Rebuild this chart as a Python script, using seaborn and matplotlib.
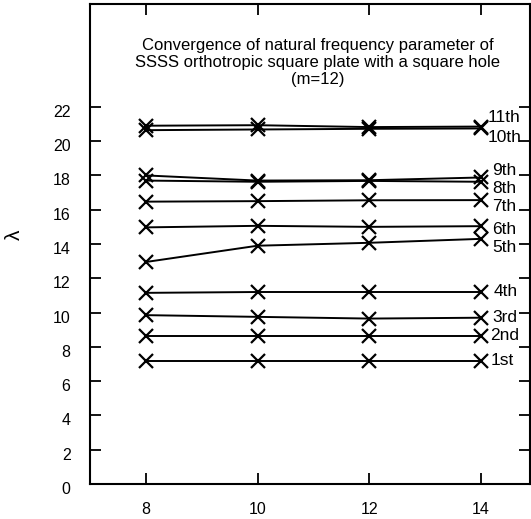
import matplotlib
matplotlib.use("Agg")
import matplotlib.pyplot as plt
import matplotlib.transforms as mtransforms
import seaborn as sns
import pandas as pd

# ---- data ----
n_terms = [8, 10, 12, 14]
modes = ["1st", "2nd", "3rd", "4th", "5th", "6th", "7th", "8th", "9th", "10th", "11th"]
mode_1 = [7.20, 7.20, 7.20, 7.20]
mode_2 = [8.65, 8.65, 8.65, 8.65]
mode_3 = [9.85, 9.75, 9.65, 9.70]
mode_4 = [11.15, 11.20, 11.20, 11.20]
mode_5 = [12.95, 13.90, 14.07, 14.30]
mode_6 = [14.97, 15.06, 15.00, 15.04]
mode_7 = [16.47, 16.50, 16.55, 16.56]
mode_8 = [17.70, 17.63, 17.68, 17.63]
mode_9 = [18.00, 17.70, 17.72, 17.88]
mode_10 = [20.64, 20.68, 20.72, 20.74]
mode_11 = [20.90, 20.93, 20.82, 20.85]
series = [mode_1, mode_2, mode_3, mode_4, mode_5, mode_6, mode_7,
          mode_8, mode_9, mode_10, mode_11]
yticks = [0, 2, 4, 6, 8, 10, 12, 14, 16, 18, 20, 22]
xticks = [8, 10, 12, 14]
title = ("Convergence of natural frequency parameter of\n"
         "SSSS orthotropic square plate with a square hole\n(m=12)")

# label offsets (styling only)
label_dy = [0, 0, 0, 0, -0.5, -0.2, -0.4, -0.4, 0.4, -0.5, 0.5]
label_dx = [0.17, 0.16, 0.2, 0.22, 0.2, 0.2, 0.2, 0.2, 0.2, 0.13, 0.13]

rows = []
for m, vals in zip(modes, series):
    for n, v in zip(n_terms, vals):
        rows.append({"mode": m, "n": n, "lam": v})
df = pd.DataFrame(rows)

sns.set_style("ticks")
plt.rcParams["font.family"] = ["Liberation Sans", "DejaVu Sans"]
plt.rcParams["text.color"] = "black"
plt.rcParams["axes.labelcolor"] = "black"
plt.rcParams["xtick.color"] = "black"
plt.rcParams["ytick.color"] = "black"

fig = plt.figure(figsize=(5.31, 5.19), dpi=100)
ax = fig.add_axes([90 / 531, 35 / 519, 440 / 531, 480 / 519])

sns.lineplot(data=df, x="n", y="lam", units="mode", estimator=None,
             color="black", marker="x", markersize=9.5, markeredgewidth=1.6,
             markeredgecolor="black", linewidth=1.4, ax=ax, legend=False)

for m, vals, dy, dx in zip(modes, series, label_dy, label_dx):
    ax.text(n_terms[-1] + dx, vals[-1] + dy, m, fontsize=12.5, va="center",
            ha="left", color="black")

ax.set_xlim(7, 14.88)
ax.set_ylim(0, 28)
ax.set_xticks(xticks)
ax.set_yticks(yticks)
ax.set_xticklabels([str(t) for t in xticks], fontsize=11.5)
ax.set_yticklabels([str(t) for t in yticks], fontsize=11.5)
ax.tick_params(direction="in", length=8, width=1.3, top=True, right=True,
               labelright=False, labeltop=False, pad=14, color="black",
               labelcolor="black")
ax.tick_params(axis="x", pad=13)
for lab in ax.get_yticklabels():
    lab.set_transform(lab.get_transform() +
                      mtransforms.ScaledTranslation(0, -4 / 100, fig.dpi_scale_trans))
for s in ax.spines.values():
    s.set_visible(True)
    s.set_linewidth(1.5)
    s.set_color("black")

ax.set_xlabel("")
ax.set_ylabel("λ", fontsize=15, rotation=90, color="black")
ax.yaxis.set_label_coords(-0.15, 0.52)

ax.text(0.518, 0.93, title, transform=ax.transAxes, ha="center", va="top",
        fontsize=12, linespacing=1.2, color="black")

fig.savefig("out.png", dpi=100)
